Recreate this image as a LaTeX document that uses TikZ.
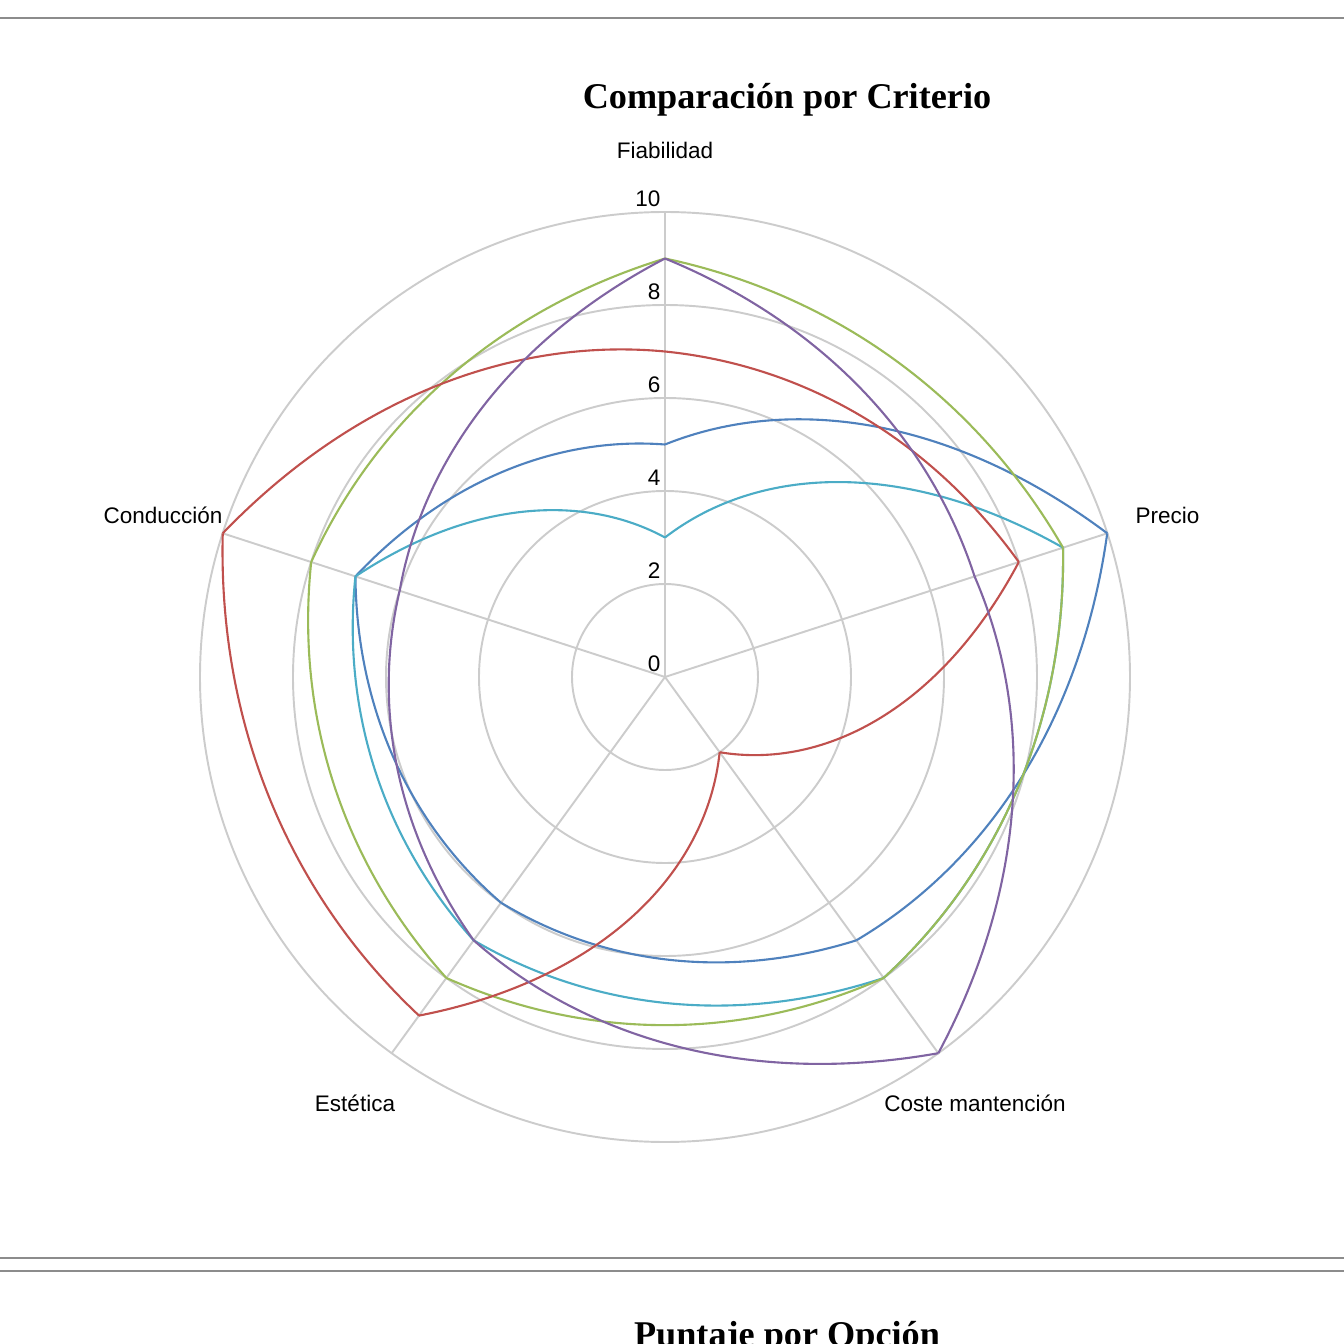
\documentclass[tikz,border=0pt]{standalone}
\usepackage{fontspec}
\setmainfont{Liberation Serif}
\setsansfont{Liberation Sans}
\begin{document}
\begin{tikzpicture}[x=0.01cm,y=0.01cm,
  grid/.style={draw=black!20,line width=0.55pt},
  ser/.style={line width=0.6pt},
  lab/.style={font=\sffamily\fontsize{6.4}{7}\selectfont,inner sep=0pt},
  frame/.style={draw=black!45,line width=0.5pt}]
\definecolor{cb}{HTML}{4F81BD}
\definecolor{cr}{HTML}{C0504D}
\definecolor{cg}{HTML}{9BBB59}
\definecolor{cp}{HTML}{8064A2}
\definecolor{cc}{HTML}{4BACC6}
\useasboundingbox (0,0) rectangle (1344,1344);
\coordinate (O) at (665,667);
\draw[frame] (0,1326) -- (1344,1326);
\draw[frame] (0,86) -- (1344,86);
\draw[frame] (0,73) -- (1344,73);
\node[font=\bfseries\fontsize{10.3}{12}\selectfont] (title) at (787,1244) {Comparación por Criterio};
\node[font=\bfseries\fontsize{10.3}{12}\selectfont] (title2) at (787,6) {Puntaje por Opción};
\begin{scope}[shift={(O)}]
\foreach \r in {2,4,6,8,10} \draw[grid] (0,0) circle ({\r*46.5});
\foreach \a in {90,18,-54,-126,162} \draw[grid] (0,0) -- (\a:465);
\foreach \r in {0,2,...,10} \node[lab,anchor=south east] (t\r) at (-4,{\r*46.5+5}) {\r};
\node[lab] (lf) at (0,527) {Fiabilidad};
\node[lab,anchor=west] (lp) at (470,162) {Precio};
\node[lab] (lc) at (310,-426) {Coste mantención};
\node[lab] (le) at (-310,-426) {Estética};
\node[lab] (lco) at (-502,162) {Conducción};
\foreach \col/\vals in {cb/{5,10,7,6,7},cc/{3,9,8,7,7},cg/{9,9,8,8,8},cr/{7,8,2,9,10},cp/{9,7,10,7,6}}{
  \foreach \i in {0,...,4}{
    \pgfmathsetmacro{\ra}{{\vals}[\i]*46.5}
    \pgfmathtruncatemacro{\j}{mod(\i+1,5)}
    \pgfmathsetmacro{\rb}{{\vals}[\j]*46.5}
    \pgfmathsetmacro{\th}{90-72*\i}
    \draw[ser,draw=\col] (\th:\ra) .. controls ({\th-24}:{(2*\ra+\rb)/3}) and ({\th-48}:{(\ra+2*\rb)/3}) .. ({\th-72}:\rb);
  }
}
\end{scope}
\end{tikzpicture}
\end{document}
